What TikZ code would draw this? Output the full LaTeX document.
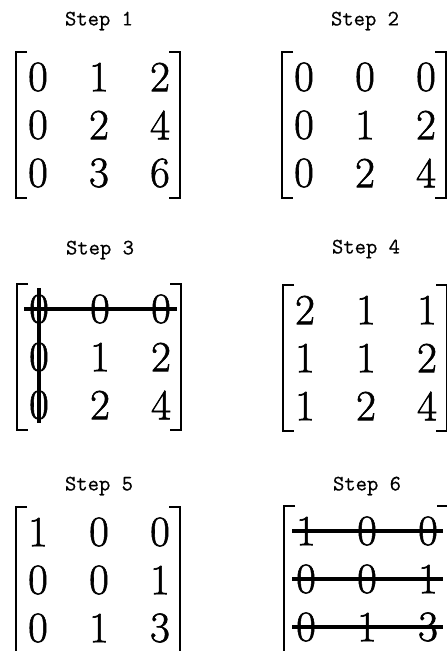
\documentclass[tikz,border=0pt]{standalone}
\usepackage{fontspec}
\newfontfamily\digitfont[FakeBold=1.4]{Latin Modern Roman}
\newfontfamily\stepfont[FakeBold=0.6]{Latin Modern Mono}
\begin{document}
\begin{tikzpicture}[x=1pt, y=-1pt, line cap=butt,
    entry/.style={font=\digitfont\fontsize{43}{43}\selectfont, inner sep=0pt},
    title/.style={font=\stepfont\fontsize{22}{22}\selectfont, inner sep=0pt},
    brk/.style={line width=2.6pt},
    strike/.style={line width=3.4pt}]
  \useasboundingbox (0,0) rectangle (447,651);
  \clip (0,0) rectangle (447,651);
  \foreach \m/\cx/\cy/\ty/\rows in {1/99/125/21/{0/1/2,0/2/4,0/3/6},
                                    2/365/125/21/{0/0/0,0/1/2,0/2/4},
                                    3/100/357/250/{0/0/0,0/1/2,0/2/4},
                                    4/366/358/249/{2/1/1,1/1/2,1/2/4},
                                    5/99/580/486/{1/0/0,0/0/1,0/1/3},
                                    6/367/579/486/{1/0/0,0/0/1,0/1/3}} {
    \node[title] (t\m) at (\cx,\ty) {Step \m};
    \foreach \a/\b/\c [count=\r] in \rows {
      \node[entry] (m\m-\r-1) at (\cx-61,{\cy+(\r-2)*48}) {\a};
      \node[entry] (m\m-\r-2) at (\cx,{\cy+(\r-2)*48}) {\b};
      \node[entry] (m\m-\r-3) at (\cx+61,{\cy+(\r-2)*48}) {\c};
    }
    % brackets
    \draw[brk] (\cx-72,\cy-73) -- (\cx-83,\cy-73) -- (\cx-83,\cy+73) -- (\cx-72,\cy+73);
    \draw[brk] (\cx+70,\cy-73) -- (\cx+81,\cy-73) -- (\cx+81,\cy+73) -- (\cx+70,\cy+73);
  }
  % step 3: first row and first column struck out
  \draw[strike] ([xshift=-15pt]m3-1-1.center) -- ([xshift=16pt]m3-1-3.center);
  \draw[strike] ([yshift=21pt]m3-1-1.center) -- ([yshift=-18pt]m3-3-1.center);
  % step 6: every row struck out
  \foreach \r in {1,2,3} {
    \draw[strike] ([xshift=-14pt]m6-\r-1.center) -- ([xshift=15pt]m6-\r-3.center);
  }
\end{tikzpicture}
\end{document}
